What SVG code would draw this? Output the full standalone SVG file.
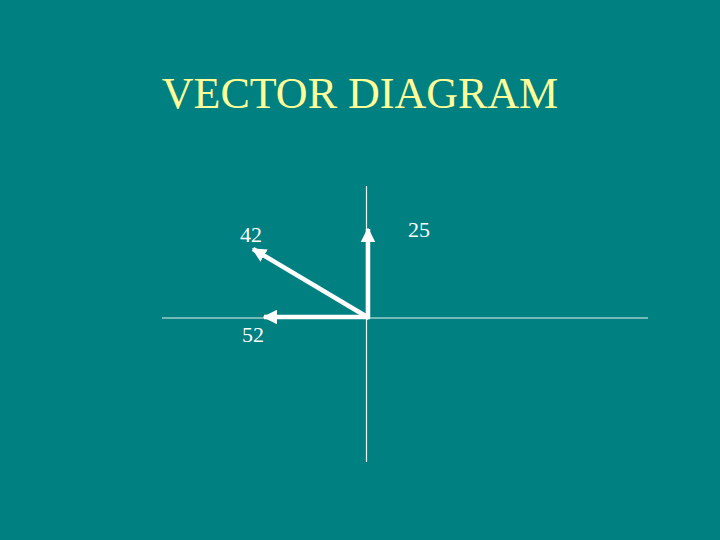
<svg xmlns="http://www.w3.org/2000/svg" width="720" height="540" viewBox="0 0 720 540">
<style>
.t{font-family:"Liberation Serif","Times New Roman",serif;}
.lbl{fill:#ffffff;font-size:22px;}
.axis{stroke:#e8f0f0;stroke-width:1.2;}
.vec{stroke:#ffffff;stroke-width:4.5;fill:none;}
</style>
<defs>
<marker id="ah" viewBox="0 0 10 10" refX="9" refY="5" markerWidth="3.2" markerHeight="3.2" orient="auto" markerUnits="strokeWidth">
<path d="M0,0 L10,5 L0,10 Z" fill="#ffffff"/>
</marker>
</defs>
<rect width="720" height="540" fill="#008080"/>
<text class="t" x="360" y="108" text-anchor="middle" font-size="44" fill="#ffff99">VECTOR DIAGRAM</text>
<g id="axes">
<line class="axis" x1="162" y1="318" x2="648" y2="318"/>
<line class="axis" x1="366.5" y1="186" x2="366.5" y2="462"/>
</g>
<g id="connectors">
<line class="vec" x1="368" y1="317" x2="368" y2="229" marker-end="url(#ah)"/>
<line class="vec" x1="370" y1="317" x2="264" y2="317" marker-end="url(#ah)"/>
<line class="vec" x1="369" y1="318" x2="253" y2="249" marker-end="url(#ah)"/>
</g>
<g id="labels">
<text class="t lbl" x="240" y="242">42</text>
<text class="t lbl" x="242" y="342">52</text>
<text class="t lbl" x="408" y="237">25</text>
</g>
</svg>
